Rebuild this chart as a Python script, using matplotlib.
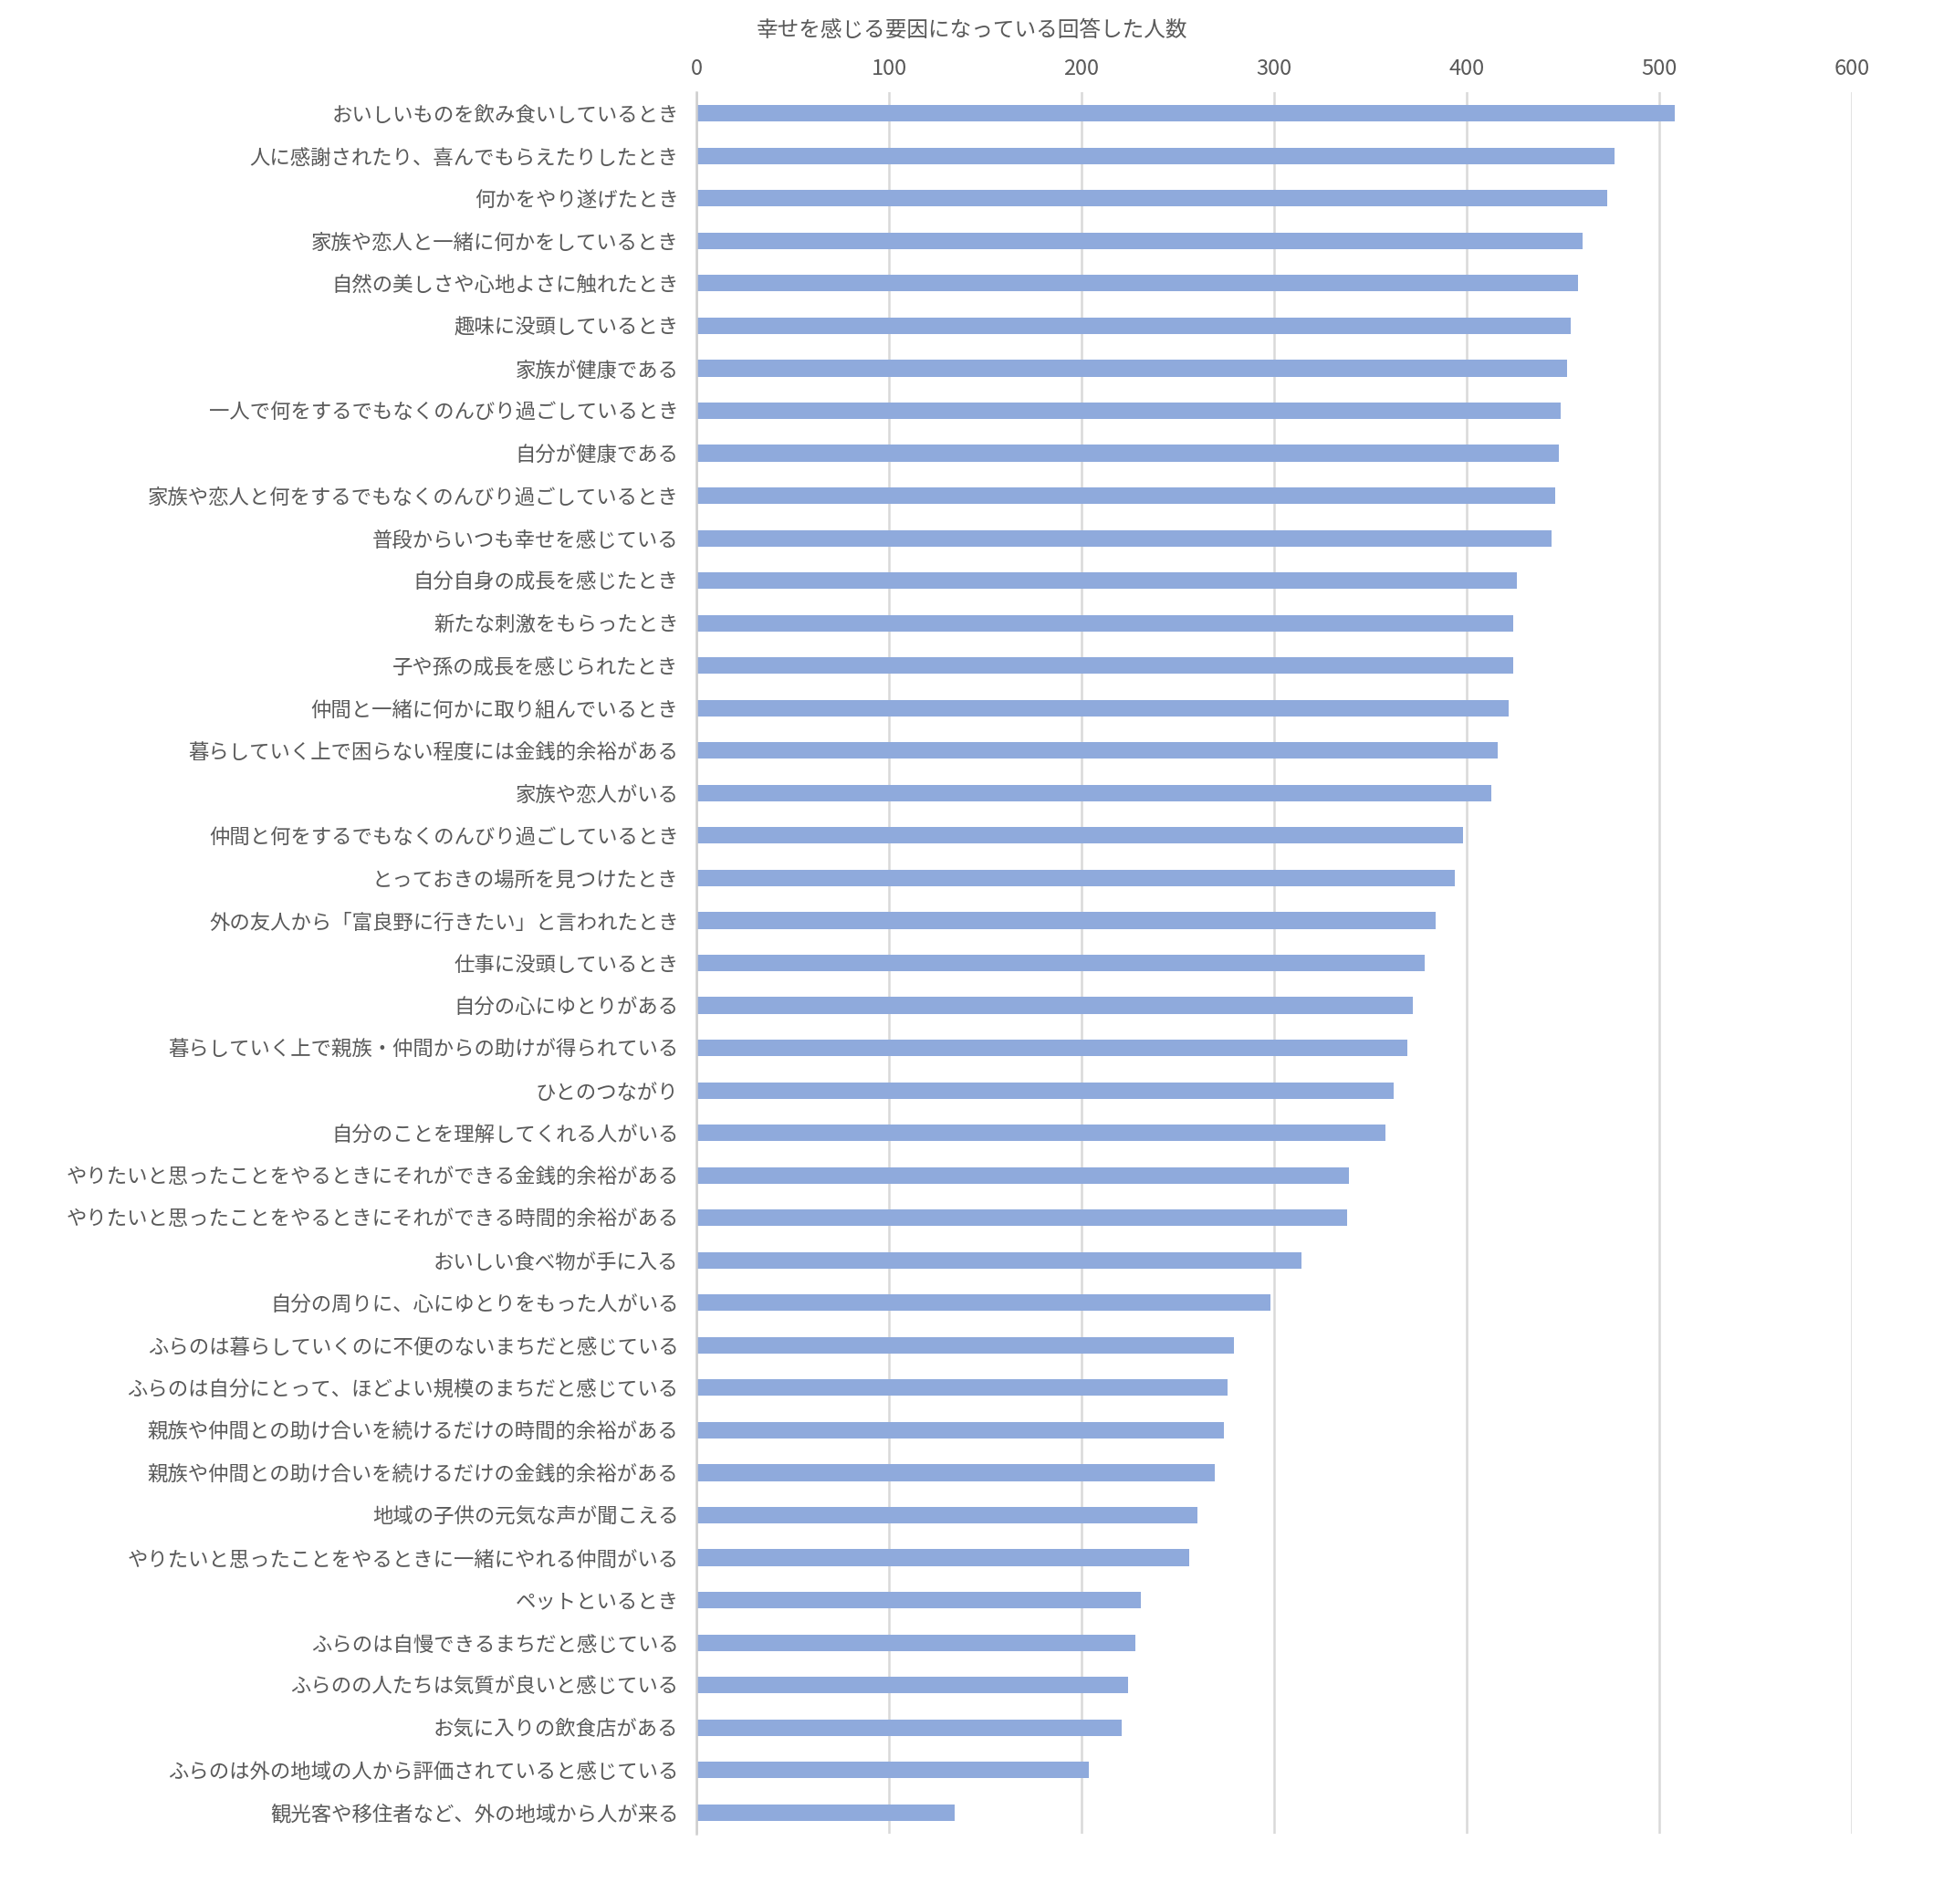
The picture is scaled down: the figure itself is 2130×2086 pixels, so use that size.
import matplotlib
matplotlib.use("Agg")
import matplotlib.pyplot as plt

plt.rcParams['font.family'] = ['Noto Sans CJK JP', 'DejaVu Sans']

# data, top to bottom as in the chart
labels = [
    'おいしいものを飲み食いしているとき',
    '人に感謝されたり、喜んでもらえたりしたとき',
    '何かをやり遂げたとき',
    '家族や恋人と一緒に何かをしているとき',
    '自然の美しさや心地よさに触れたとき',
    '趣味に没頭しているとき',
    '家族が健康である',
    '一人で何をするでもなくのんびり過ごしているとき',
    '自分が健康である',
    '家族や恋人と何をするでもなくのんびり過ごしているとき',
    '普段からいつも幸せを感じている',
    '自分自身の成長を感じたとき',
    '新たな刺激をもらったとき',
    '子や孫の成長を感じられたとき',
    '仲間と一緒に何かに取り組んでいるとき',
    '暮らしていく上で困らない程度には金銭的余裕がある',
    '家族や恋人がいる',
    '仲間と何をするでもなくのんびり過ごしているとき',
    'とっておきの場所を見つけたとき',
    '外の友人から「富良野に行きたい」と言われたとき',
    '仕事に没頭しているとき',
    '自分の心にゆとりがある',
    '暮らしていく上で親族・仲間からの助けが得られている',
    'ひとのつながり',
    '自分のことを理解してくれる人がいる',
    'やりたいと思ったことをやるときにそれができる金銭的余裕がある',
    'やりたいと思ったことをやるときにそれができる時間的余裕がある',
    'おいしい食べ物が手に入る',
    '自分の周りに、心にゆとりをもった人がいる',
    'ふらのは暮らしていくのに不便のないまちだと感じている',
    'ふらのは自分にとって、ほどよい規模のまちだと感じている',
    '親族や仲間との助け合いを続けるだけの時間的余裕がある',
    '親族や仲間との助け合いを続けるだけの金銭的余裕がある',
    '地域の子供の元気な声が聞こえる',
    'やりたいと思ったことをやるときに一緒にやれる仲間がいる',
    'ペットといるとき',
    'ふらのは自慢できるまちだと感じている',
    'ふらのの人たちは気質が良いと感じている',
    'お気に入りの飲食店がある',
    'ふらのは外の地域の人から評価されていると感じている',
    '観光客や移住者など、外の地域から人が来る',
]
counts = [508, 477, 473, 460, 458, 454, 452, 449, 448, 446, 444,
          426, 424, 424, 422, 416, 413, 398, 394, 384, 378, 372,
          369, 362, 358, 339, 338, 314, 298, 279, 276, 274, 269,
          260, 256, 231, 228, 224, 221, 204, 134]
xticks = [0, 100, 200, 300, 400, 500, 600]

text_color = '#595959'
bar_color = '#8faadc'
grid_color = '#d9d9d9'

fig = plt.figure(figsize=(21.3, 20.86), dpi=100)
ax = fig.add_axes([0.3582, 0.0369, 0.9526 - 0.3582, 0.9516 - 0.0369])

pos = list(range(len(labels)))
ax.barh(pos, counts, height=0.39, color=bar_color, zorder=2)

ax.set_ylim(len(labels) - 0.5, -0.5)
ax.set_xlim(0, 600)
ax.set_yticks(pos)
ax.set_yticklabels(labels, fontsize=16.1, color=text_color)
ax.set_xticks(xticks)
ax.set_xticklabels([str(t) for t in xticks], fontsize=17, color=text_color)
ax.xaxis.tick_top()
ax.tick_params(axis='y', length=0, pad=14)
ax.tick_params(axis='x', length=0, pad=10)

ax.grid(axis='x', color=grid_color, linewidth=1.8, zorder=0)
ax.set_axisbelow(True)
for side in ['top', 'right', 'bottom']:
    ax.spines[side].set_visible(False)
ax.spines['left'].set_color('#cfcfcf')
ax.spines['left'].set_linewidth(1.8)

fig.text(0.5, 1 - 33 / 2086, '幸せを感じる要因になっている回答した人数',
         ha='center', va='center', fontsize=17, color=text_color)

fig.savefig('out.png', dpi=100, facecolor='white')
